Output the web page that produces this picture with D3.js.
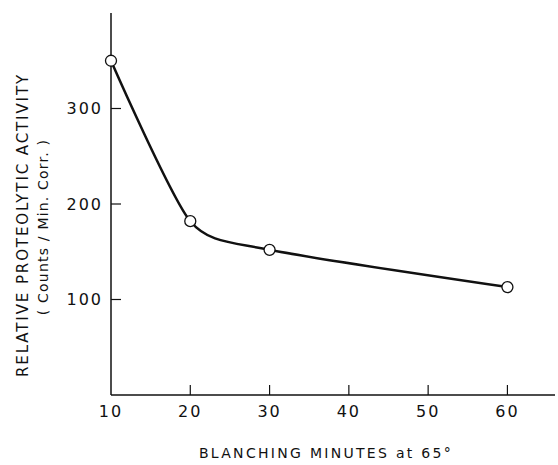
<!DOCTYPE html>
<html>
<head>
<meta charset="utf-8">
<script src="https://cdn.jsdelivr.net/npm/d3@7"></script>
<style>
  body { margin: 0; background: #fff; }
  text { font-family: "DejaVu Sans", sans-serif; fill: #111; }
</style>
</head>
<body>
<div id="chart"></div>
<script>
// blanching time (min) vs relative proteolytic activity
var minutes = [10, 20, 30, 60];
var activity = [350, 182, 152, 113];
var xTicks = [10, 20, 30, 40, 50, 60];
var yTicks = [100, 200, 300];

var width = 558, height = 465;

var svg = d3.select("#chart").append("svg")
  .attr("width", width)
  .attr("height", height);

var x = d3.scaleLinear().domain([10, 66]).range([111, 555]);
var y = d3.scaleLinear().domain([0, 400]).range([395, 13]);

// axes lines
svg.append("line")
  .attr("x1", x(10)).attr("x2", x(10))
  .attr("y1", y(400)).attr("y2", y(0))
  .attr("stroke", "#111").attr("stroke-width", 1.5);
svg.append("line")
  .attr("x1", x(10)).attr("x2", x(66))
  .attr("y1", y(0)).attr("y2", y(0))
  .attr("stroke", "#111").attr("stroke-width", 1.5);

// x ticks point up into the plot
svg.selectAll(".xt").data(xTicks.slice(1)).enter().append("line")
  .attr("x1", d => x(d)).attr("x2", d => x(d))
  .attr("y1", y(0)).attr("y2", y(0) - 10)
  .attr("stroke", "#111").attr("stroke-width", 1.2);
svg.selectAll(".xl").data(xTicks).enter().append("text")
  .attr("x", d => x(d)).attr("y", y(0) + 22)
  .attr("text-anchor", "middle")
  .style("font-size", "16px")
  .style("letter-spacing", "2px")
  .text(d => d);

// y ticks point right
svg.selectAll(".yt").data(yTicks).enter().append("line")
  .attr("x1", x(10)).attr("x2", x(10) + 10)
  .attr("y1", d => y(d)).attr("y2", d => y(d))
  .attr("stroke", "#111").attr("stroke-width", 1.2);
svg.selectAll(".yl").data(yTicks).enter().append("text")
  .attr("x", x(10) - 8).attr("y", d => y(d))
  .attr("dy", "0.36em")
  .attr("text-anchor", "end")
  .style("font-size", "16px")
  .style("letter-spacing", "2px")
  .text(d => d);

// axis titles
svg.append("text")
  .attr("x", 326).attr("y", 458)
  .attr("text-anchor", "middle")
  .style("font-size", "14px")
  .style("letter-spacing", "2.3px")
  .text("BLANCHING MINUTES at 65°");

svg.append("text")
  .attr("transform", "translate(28,225) rotate(-90)")
  .attr("text-anchor", "middle")
  .style("font-size", "15px")
  .style("letter-spacing", "1.9px")
  .text("RELATIVE PROTEOLYTIC ACTIVITY");
svg.append("text")
  .attr("transform", "translate(48,227) rotate(-90)")
  .attr("text-anchor", "middle")
  .style("font-size", "14px")
  .style("letter-spacing", "1.2px")
  .text("( Counts / Min. Corr. )");

// curve
var pts = minutes.map((m, i) => [m, activity[i]]);
var line = d3.line()
  .x(d => x(d[0]))
  .y(d => y(d[1]))
  .curve(d3.curveCardinal.tension(0.3));

svg.append("path")
  .attr("d", line(pts))
  .attr("fill", "none")
  .attr("stroke", "#111")
  .attr("stroke-width", 2.5);

svg.selectAll(".pt").data(pts).enter().append("circle")
  .attr("cx", d => x(d[0]))
  .attr("cy", d => y(d[1]))
  .attr("r", 5.5)
  .attr("fill", "#fff")
  .attr("stroke", "#111")
  .attr("stroke-width", 1.3);
</script>
</body>
</html>
